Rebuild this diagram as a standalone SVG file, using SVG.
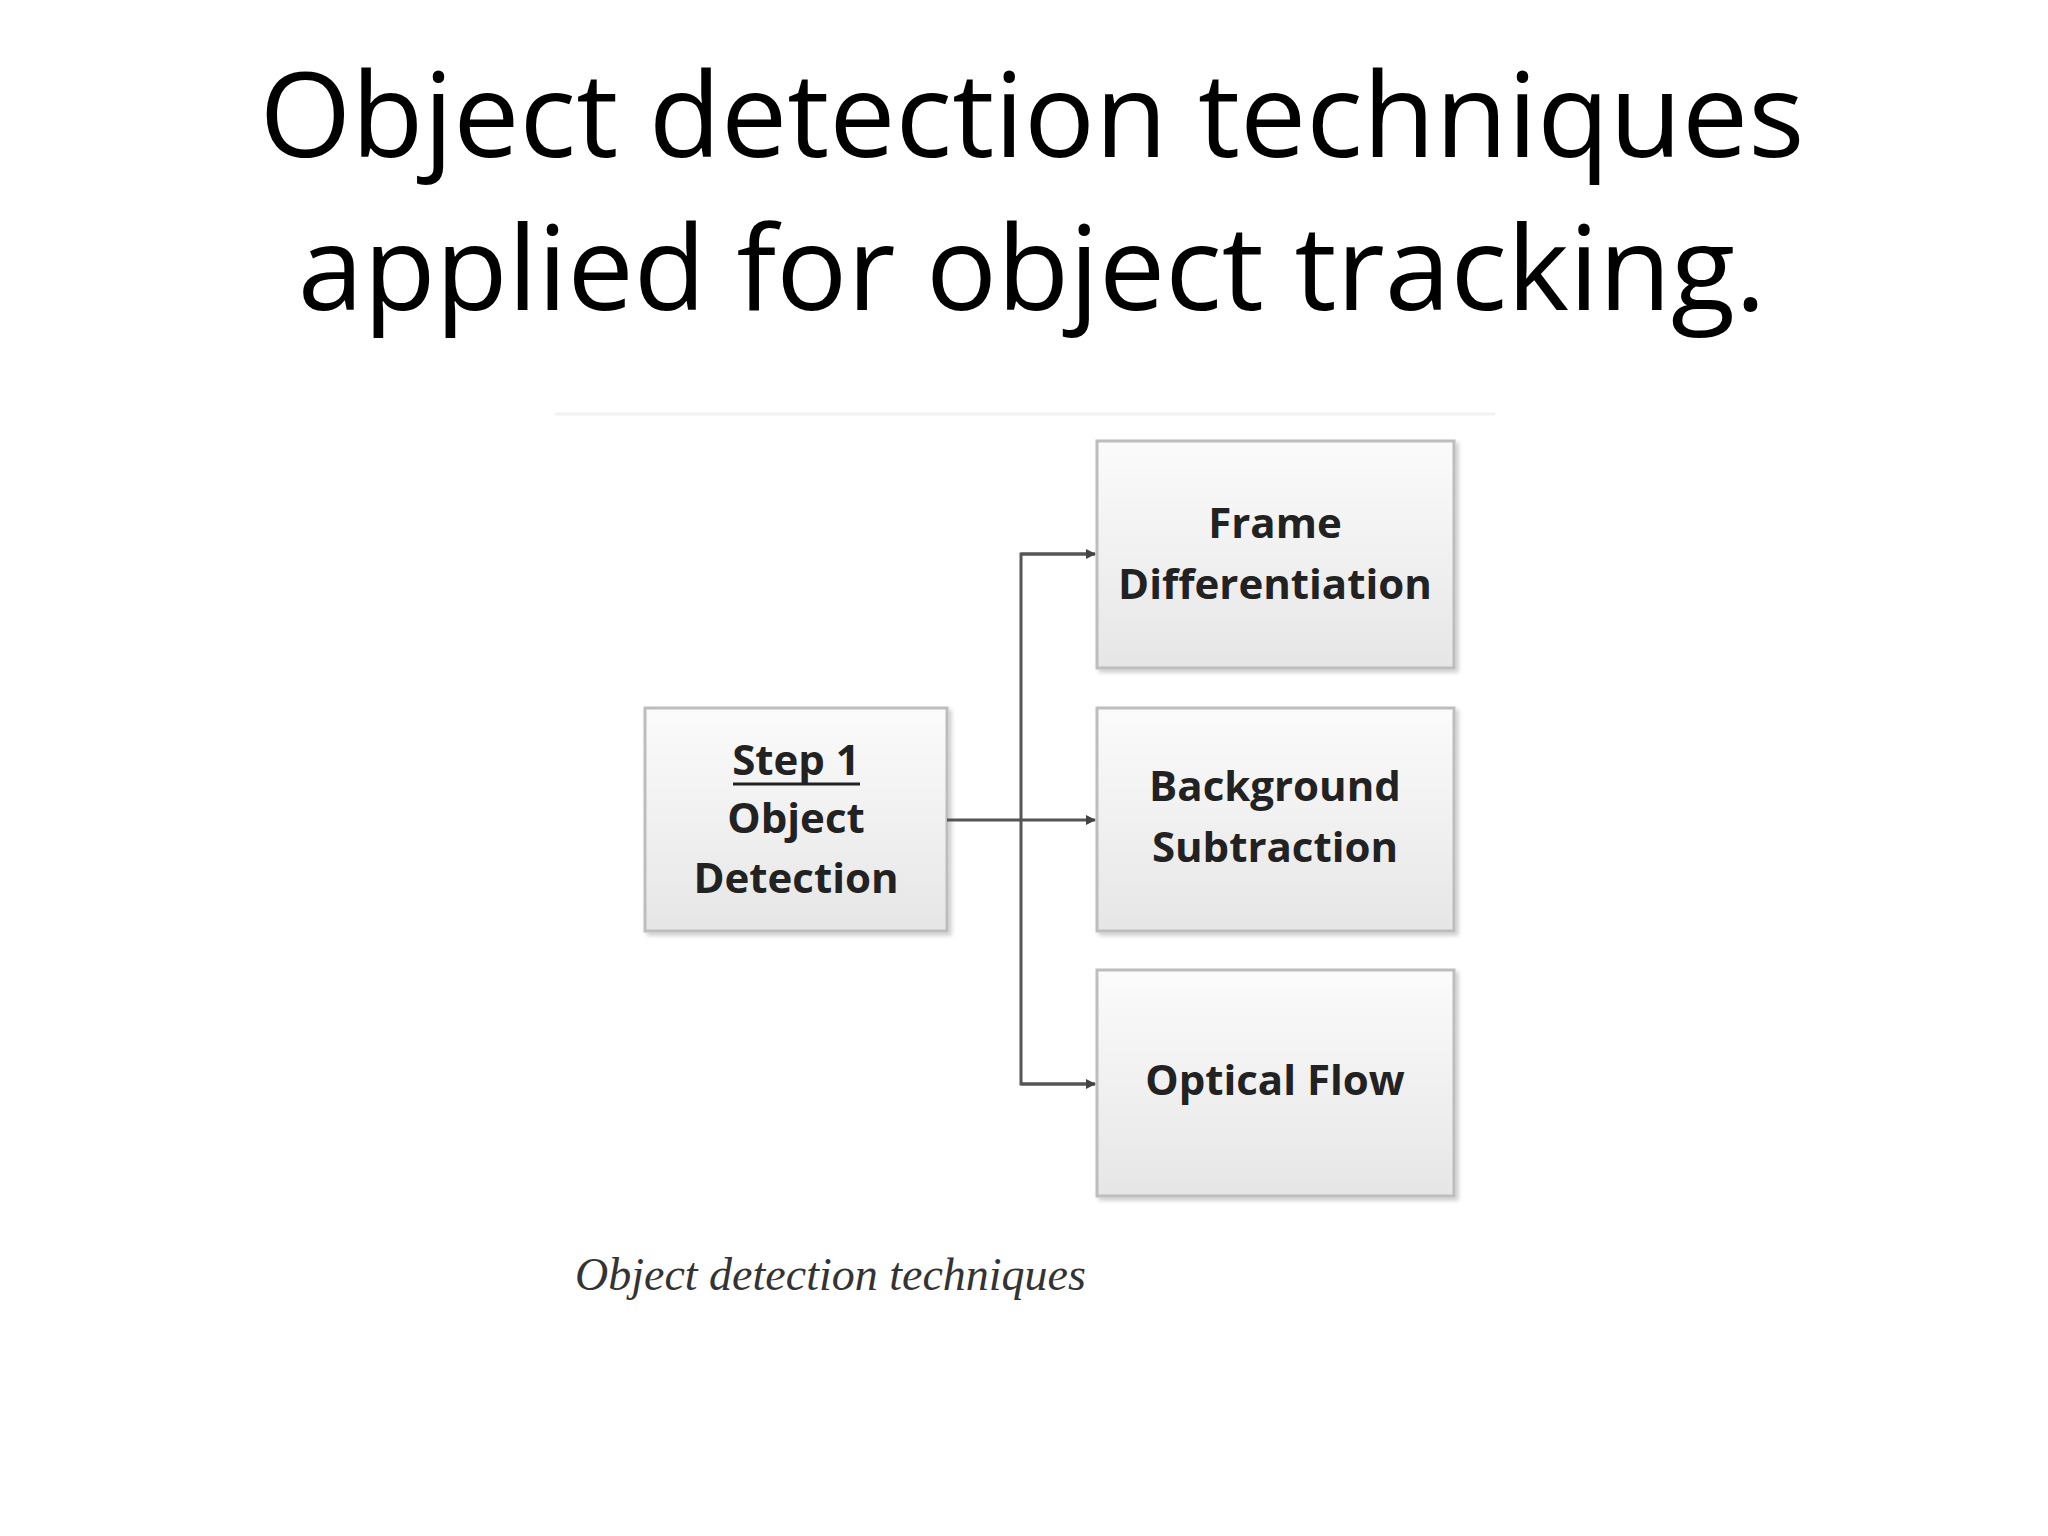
<svg xmlns="http://www.w3.org/2000/svg" width="2048" height="1536" viewBox="0 0 2048 1536">
<defs>
<linearGradient id="g" x1="0" y1="0" x2="0" y2="1"><stop offset="0" stop-color="#fbfbfb"/><stop offset="1" stop-color="#e6e6e6"/></linearGradient>
<marker id="a" markerWidth="10" markerHeight="10" refX="9" refY="5" orient="auto" markerUnits="userSpaceOnUse" viewBox="0 0 10 10"><path d="M0,0 L10,5 L0,10 z" fill="#444"/></marker>
<filter id="s" x="-5%" y="-5%" width="115%" height="115%"><feDropShadow dx="3" dy="3" stdDeviation="2" flood-color="#000" flood-opacity="0.2"/></filter>
</defs>
<style>
.t{font-family:"Open Sans","Liberation Sans",sans-serif;font-size:118px;fill:#000;text-anchor:middle}
.b{fill:url(#g);stroke:#bdbdbd;stroke-width:3;filter:url(#s)}
.l{font-family:"Open Sans","Liberation Sans",sans-serif;font-weight:bold;font-size:42px;fill:#222;text-anchor:middle}
.c{stroke:#555;stroke-width:3;fill:none}
</style>
<rect width="2048" height="1536" fill="#fff"/>
<text class="t" x="1032" y="157">Object detection techniques</text>
<text class="t" x="1032" y="310">applied for object tracking.</text>
<line x1="555" y1="414" x2="1495" y2="414" stroke="#f2f2f2" stroke-width="3"/>
<g id="n1"><rect class="b" x="645" y="708" width="302" height="223"/>
<text class="l" x="796" y="775">Step 1</text><line x1="733" y1="784" x2="860" y2="784" stroke="#222" stroke-width="3"/>
<text class="l" x="796" y="833">Object</text><text class="l" x="796" y="893">Detection</text></g>
<g id="n2"><rect class="b" x="1097" y="441" width="357" height="227"/>
<text class="l" x="1275" y="538">Frame</text><text class="l" x="1275" y="599">Differentiation</text></g>
<g id="n3"><rect class="b" x="1097" y="708" width="357" height="223"/>
<text class="l" x="1275" y="801">Background</text><text class="l" x="1275" y="862">Subtraction</text></g>
<g id="n4"><rect class="b" x="1097" y="970" width="357" height="226"/>
<text class="l" x="1275" y="1095">Optical Flow</text></g>
<g id="connectors">
<line class="c" x1="947" y1="820" x2="1095" y2="820" marker-end="url(#a)"/>
<polyline class="c" points="1095,554 1021,554 1021,1084 1095,1084"/>
<line class="c" x1="1021" y1="554" x2="1095" y2="554" marker-end="url(#a)"/>
<line class="c" x1="1021" y1="1084" x2="1095" y2="1084" marker-end="url(#a)"/>
</g>
<text x="575" y="1290" font-family="Liberation Serif,serif" font-style="italic" font-size="46" fill="#333">Object detection techniques</text>
</svg>
